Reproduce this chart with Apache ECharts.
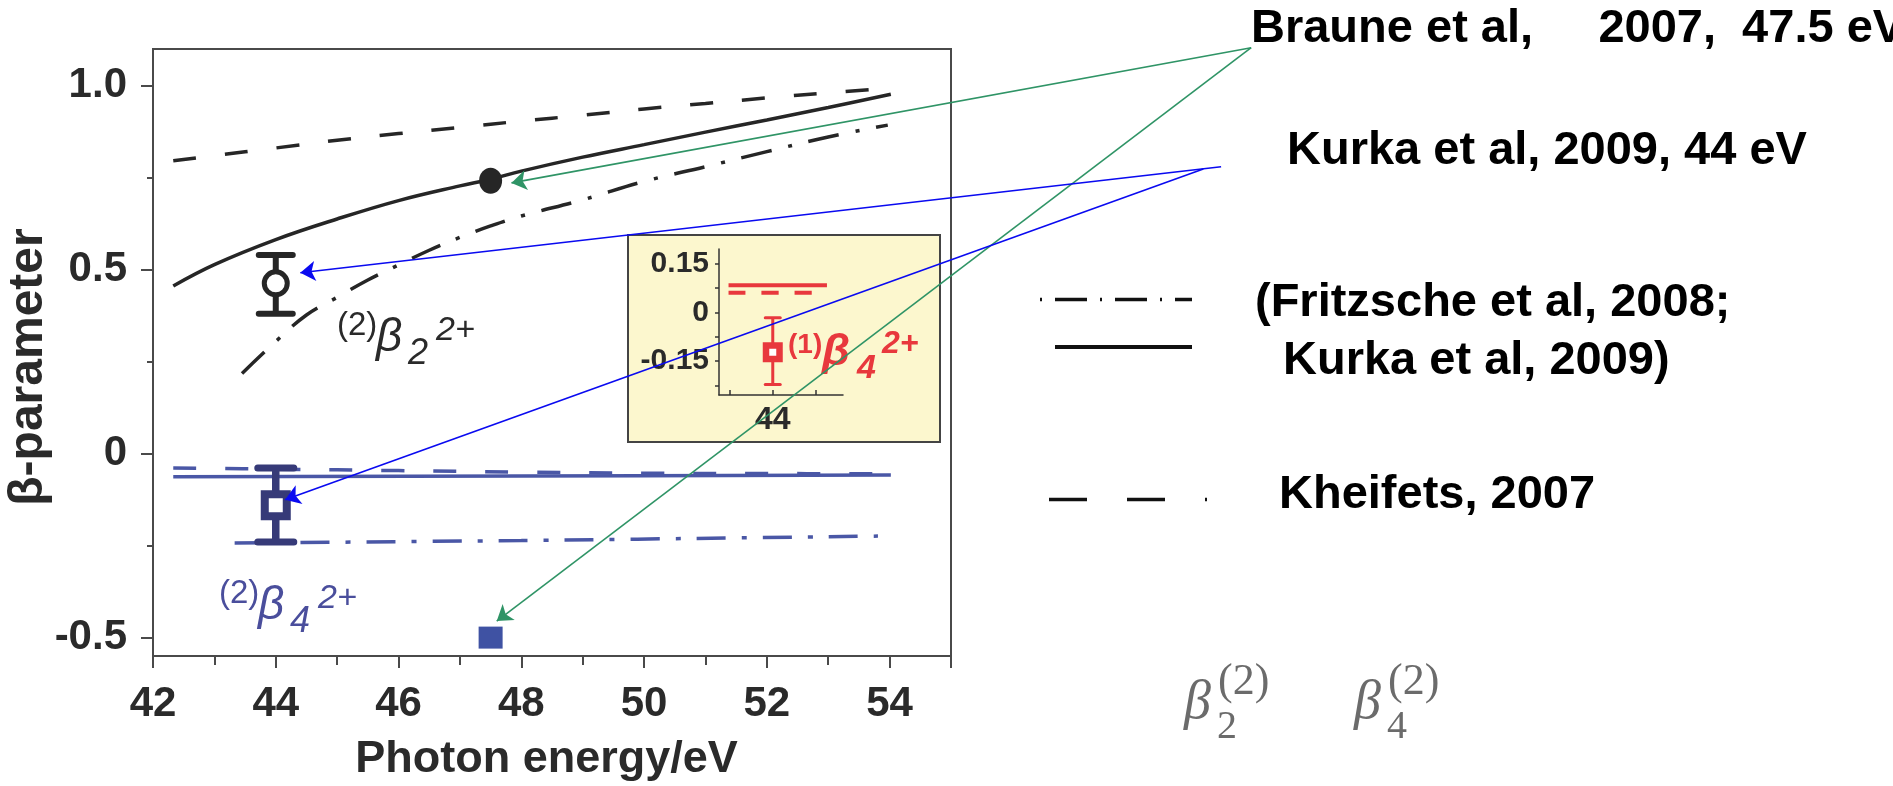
<!DOCTYPE html>
<html>
<head>
<meta charset="utf-8">
<script src="https://cdn.jsdelivr.net/npm/echarts@6/dist/echarts.min.js"></script>
<style>
  html, body { margin: 0; padding: 0; background: #ffffff; }
  #chart { width: 1893px; height: 786px; }
</style>
</head>
<body>
<div id="chart"></div>
<script>
// ---- β2 (2+) curves vs photon energy (eV) ----
const kheifetsB2X   = [42.33, 43, 44, 45, 46, 47, 48, 49, 50, 51, 52, 53, 53.86];
const kheifetsB2Y   = [0.796, 0.810, 0.831, 0.852, 0.870, 0.887, 0.904, 0.920, 0.937, 0.952, 0.967, 0.981, 0.992];
const kurkaB2X      = [42.33, 43, 44, 45, 46, 47, 47.5, 48, 49, 50, 51, 52, 53, 54.02];
const kurkaB2Y      = [0.456, 0.514, 0.582, 0.638, 0.688, 0.728, 0.746, 0.768, 0.806, 0.840, 0.874, 0.907, 0.941, 0.977];
const fritzscheB2X  = [43.45, 44, 44.5, 45, 45.5, 46, 46.5, 47, 47.5, 48, 49, 50, 51, 52, 53, 53.97];
const fritzscheB2Y  = [0.218, 0.305, 0.377, 0.425, 0.472, 0.513, 0.553, 0.588, 0.619, 0.646, 0.690, 0.740, 0.780, 0.821, 0.861, 0.893];

// ---- β4 (2+) curves ----
const kheifetsB4X   = [42.33, 44, 46, 48, 50, 52, 54];
const kheifetsB4Y   = [-0.039, -0.042, -0.046, -0.050, -0.053, -0.054, -0.055];
const kurkaB4X      = [42.33, 48, 54.02];
const kurkaB4Y      = [-0.063, -0.061, -0.058];
const fritzscheB4X  = [43.33, 48, 53.81];
const fritzscheB4Y  = [-0.243, -0.236, -0.224];

// ---- measurements ----
const kurkaEnergy   = [44];
const kurkaB2       = [0.463];
const kurkaB2Low    = [0.380];
const kurkaB2High   = [0.540];
const kurkaB4       = [-0.140];
const kurkaB4Low    = [-0.240];
const kurkaB4High   = [-0.039];
const brauneEnergy  = [47.5];
const brauneB2      = [0.742];
const brauneB4      = [-0.500];

// ---- inset: (1)β4 (2+) ----
const insetTheoryX     = [42.98, 45.25];
const insetTheoryY     = [0.083, 0.083];
const insetKheifetsX   = [42.98, 44.95];
const insetKheifetsY   = [0.0605, 0.0605];
const insetEnergy      = [44];
const insetB41         = [-0.123];
const insetB41Low      = [-0.223];
const insetB41High     = [-0.017];

// ---- axis ticks and labels ----
const xLabelValues   = [42, 44, 46, 48, 50, 52, 54];
const xMajorTicks    = [42, 44, 46, 48, 50, 52, 54, 55];
const xMinorTicks    = [43, 45, 47, 49, 51, 53];
const yLabelValues   = [-0.5, 0, 0.5, 1.0];
const yLabelTexts    = ['-0.5', '0', '0.5', '1.0'];
const yMinorTicks    = [-0.25, 0.25, 0.75];
const insetYTicks    = [-0.225, -0.15, -0.075, 0, 0.075, 0.15];
const insetYLabels   = [-0.15, 0, 0.15];
const insetYTexts    = ['-0.15', '0', '0.15'];
const insetXTicks    = [43, 44, 45];
const insetXLabels   = [44];

// ---- annotation arrows (axis units of the main plot; tails sit by the citations) ----
const brauneArrowTail = [59.89, 1.1035];
const brauneArrowHeads = [[47.84, 0.736], [47.60, -0.455]];
const kurkaArrowTails = [[59.40, 0.780], [59.11, 0.774]];
const kurkaArrowHeads = [[44.40, 0.492], [44.15, -0.125]];

const INK = '#262626';
const AXIS = '#4a4a4a';
const BLUE = '#4a57a6';
const NAVY = '#363a78';
const RED = '#e8383d';
const SANS = '"Liberation Sans", Arial, sans-serif';
const SERIF = '"Liberation Serif", "DejaVu Serif", serif';

const chart = echarts.init(document.getElementById('chart'), null, { renderer: 'canvas' });

const pairs = (xs, ys) => xs.map((x, i) => [x, ys[i]]);

function curve(name, xs, ys, color, type, width, axis) {
  return {
    name, type: 'line', xAxisIndex: axis, yAxisIndex: axis,
    data: pairs(xs, ys), symbol: 'none', showSymbol: false, smooth: 0.4,
    lineStyle: { color, width, type, cap: 'butt' },
    z: axis === 2 ? 8 : 3, silent: true
  };
}

function errorBars(xs, lows, highs, axis, color, barWidth, capWidth, capThick) {
  return {
    type: 'custom', xAxisIndex: axis, yAxisIndex: axis,
    data: xs.map((x, i) => [x, lows[i], highs[i]]),
    encode: { x: 0, y: [1, 2] },
    z: axis === 2 ? 9 : 5, silent: true,
    renderItem(params, api) {
      const x = api.value(0);
      const lo = api.coord([x, api.value(1)]);
      const hi = api.coord([x, api.value(2)]);
      const hw = capWidth / 2;
      const stem = { stroke: color, lineWidth: barWidth };
      const cap = { stroke: color, lineWidth: capThick, lineCap: 'round' };
      return {
        type: 'group',
        children: [
          { type: 'line', shape: { x1: lo[0], y1: lo[1], x2: hi[0], y2: hi[1] }, style: stem },
          { type: 'line', shape: { x1: lo[0] - hw, y1: lo[1], x2: lo[0] + hw, y2: lo[1] }, style: cap },
          { type: 'line', shape: { x1: hi[0] - hw, y1: hi[1], x2: hi[0] + hw, y2: hi[1] }, style: cap }
        ]
      };
    }
  };
}

function marker(xs, ys, axis, symbol, size, itemStyle, z) {
  return {
    type: 'scatter', xAxisIndex: axis, yAxisIndex: axis,
    data: pairs(xs, ys), symbol, symbolSize: size,
    itemStyle: Object.assign({ opacity: 1 }, itemStyle), z, silent: true
  };
}

function arrows(tails, heads, color) {
  return {
    type: 'lines', coordinateSystem: 'cartesian2d', xAxisIndex: 0, yAxisIndex: 0,
    clip: false, z: 20, silent: true,
    symbol: ['none', 'arrow'], symbolSize: [0, 15],
    lineStyle: { color, width: 1.6, opacity: 1, curveness: 0 },
    data: heads.map((h, i) => ({ coords: [tails[i], h] }))
  };
}

function label(text, font, color, x, y, align) {
  return {
    type: 'text', x, y, z: 12, silent: true,
    style: { text, font, fill: color, align: align || 'left', verticalAlign: 'middle' }
  };
}

// "(n)β_k^{2+}" label built from pieces
function betaLabel(x0, y0, pre, sub, color) {
  return [
    label(pre, `33px ${SANS}`, color, x0 + 1, y0 + 16),
    label('β', `italic 46px ${SANS}`, color, x0 + 40, y0 + 28),
    label(sub, `italic 36px ${SANS}`, color, x0 + 72, y0 + 44),
    label('2+', `italic 34px ${SANS}`, color, x0 + 100, y0 + 21)
  ];
}

// β_k^{(2)} in serif
function serifBeta(x0, sub) {
  const gray = '#6b6b6b';
  return [
    label('β', `italic 54px ${SERIF}`, gray, x0, 704),
    label(sub, `40px ${SERIF}`, gray, x0 + 33, 727),
    label('(2)', `44px ${SERIF}`, gray, x0 + 34, 682)
  ];
}

function legendKey(x1, x2, y, dash, width) {
  return {
    type: 'line', z: 12, silent: true,
    shape: { x1, y1: y, x2, y2: y },
    style: { stroke: '#111111', lineWidth: width, lineDash: dash }
  };
}

const tickLabelFont = { fontFamily: SANS, fontWeight: 'bold', fontSize: 42, color: '#2a2a2a' };
const citeFont = `bold 47px ${SANS}`;

const option = {
  animation: false,
  backgroundColor: '#ffffff',
  grid: [
    { left: 153, top: 49, width: 798, height: 607, show: true, borderColor: AXIS, borderWidth: 2, backgroundColor: 'transparent', z: 0 },
    { left: 719, top: 249, width: 124, height: 146, show: false, z: 4 }
  ],
  xAxis: [
    {
      gridIndex: 0, type: 'value', min: 42, max: 55, position: 'bottom',
      axisLine: { show: true, onZero: false, lineStyle: { color: AXIS, width: 2 } },
      axisTick: { show: true, customValues: xMajorTicks, length: 12, lineStyle: { color: AXIS, width: 2 } },
      axisLabel: Object.assign({ customValues: xLabelValues, margin: 27 }, tickLabelFont),
      splitLine: { show: false }
    },
    {
      gridIndex: 0, type: 'value', min: 42, max: 55, position: 'bottom',
      axisLine: { show: false, onZero: false },
      axisTick: { show: true, customValues: xMinorTicks, length: 9, lineStyle: { color: AXIS, width: 2 } },
      axisLabel: { show: false },
      splitLine: { show: false }
    },
    {
      gridIndex: 1, type: 'value', min: 42.76, max: 45.62, position: 'bottom', z: 5,
      axisLine: { show: true, onZero: false, lineStyle: { color: '#333', width: 1.5 } },
      axisTick: { show: true, inside: true, customValues: insetXTicks, length: 5, lineStyle: { color: '#333', width: 1.5 } },
      axisLabel: { customValues: insetXLabels, margin: 9, fontFamily: SANS, fontWeight: 'bold', fontSize: 32, color: '#2a2a2a' },
      splitLine: { show: false }
    }
  ],
  yAxis: [
    {
      gridIndex: 0, type: 'value', min: -0.55, max: 1.1, position: 'left',
      axisLine: { show: true, onZero: false, lineStyle: { color: AXIS, width: 2 } },
      axisTick: { show: true, customValues: yLabelValues, length: 12, lineStyle: { color: AXIS, width: 2 } },
      axisLabel: Object.assign({
        customValues: yLabelValues, margin: 26,
        formatter: v => yLabelTexts[yLabelValues.findIndex(t => Math.abs(t - v) < 1e-9)]
      }, tickLabelFont),
      splitLine: { show: false }
    },
    {
      gridIndex: 0, type: 'value', min: -0.55, max: 1.1, position: 'left',
      axisLine: { show: false, onZero: false },
      axisTick: { show: true, customValues: yMinorTicks, length: 6, lineStyle: { color: AXIS, width: 2 } },
      axisLabel: { show: false },
      splitLine: { show: false }
    },
    {
      gridIndex: 1, type: 'value', min: -0.255, max: 0.195, position: 'left', z: 5,
      axisLine: { show: true, onZero: false, lineStyle: { color: '#333', width: 1.5 } },
      axisTick: { show: true, customValues: insetYTicks, length: 4, lineStyle: { color: '#333', width: 1.5 } },
      axisLabel: {
        customValues: insetYLabels, margin: 10,
        formatter: v => insetYTexts[insetYLabels.findIndex(t => Math.abs(t - v) < 1e-9)],
        fontFamily: SANS, fontWeight: 'bold', fontSize: 30, color: '#2a2a2a'
      },
      splitLine: { show: false }
    }
  ],
  series: [
    // β2 theory
    curve('Kheifets β2', kheifetsB2X, kheifetsB2Y, INK, [23, 29], 3.5, 0),
    curve('Kurka β2', kurkaB2X, kurkaB2Y, INK, 'solid', 3.5, 0),
    curve('Fritzsche β2', fritzscheB2X, fritzscheB2Y, INK, [31, 17, 4, 17], 3.5, 0),
    // β4 theory
    curve('Kheifets β4', kheifetsB4X, kheifetsB4Y, BLUE, [23, 29], 3.5, 0),
    curve('Kurka β4', kurkaB4X, kurkaB4Y, BLUE, 'solid', 3.5, 0),
    curve('Fritzsche β4', fritzscheB4X, fritzscheB4Y, BLUE, [29, 16, 5, 16], 3.5, 0),
    // Kurka et al. 2009, 44 eV
    errorBars(kurkaEnergy, kurkaB2Low, kurkaB2High, 0, INK, 6, 34, 6),
    errorBars(kurkaEnergy, kurkaB4Low, kurkaB4High, 0, NAVY, 7.5, 36, 7),
    marker(kurkaEnergy, kurkaB2, 0, 'circle', 23, { color: '#ffffff', borderColor: INK, borderWidth: 5 }, 6),
    marker(kurkaEnergy, kurkaB4, 0, 'rect', 22, { color: '#ffffff', borderColor: NAVY, borderWidth: 8 }, 6),
    // Braune et al. 2007, 47.5 eV
    marker(brauneEnergy, brauneB2, 0, 'circle', [23, 26], { color: INK }, 6),
    marker(brauneEnergy, brauneB4, 0, 'rect', [24, 22], { color: '#3f52a3' }, 6),
    // inset
    curve('inset theory', insetTheoryX, insetTheoryY, RED, 'solid', 4, 2),
    curve('inset Kheifets', insetKheifetsX, insetKheifetsY, RED, [17, 16], 4, 2),
    errorBars(insetEnergy, insetB41Low, insetB41High, 2, RED, 3, 15, 3),
    marker(insetEnergy, insetB41, 2, 'rect', 13.5, { color: '#ffffff', borderColor: RED, borderWidth: 6.5 }, 10),
    // citation arrows
    arrows(brauneArrowHeads.map(() => brauneArrowTail), brauneArrowHeads, '#2f9466'),
    arrows(kurkaArrowTails, kurkaArrowHeads, '#0a0af0')
  ],
  graphic: [
    { type: 'rect', z: 1, silent: true, shape: { x: 628, y: 235, width: 312, height: 207 },
      style: { fill: '#fcf7ce', stroke: '#444444', lineWidth: 2 } },
    label('Photon energy/eV', `bold 45px ${SANS}`, '#2a2a2a', 546.5, 760, 'center'),
    { type: 'text', x: 28.5, y: 367, rotation: Math.PI / 2, z: 12, silent: true,
      style: { text: 'β-parameter', font: `bold 48px ${SANS}`, fill: '#2a2a2a', align: 'center', verticalAlign: 'middle' } },
    ...betaLabel(336, 310, '(2)', '2', '#2a2a2a'),
    ...betaLabel(218, 578, '(2)', '4', '#4a4e9c'),
    label('(1)', `bold 28px ${SANS}`, RED, 788, 345),
    label('β', `italic bold 45px ${SANS}`, RED, 822, 353),
    label('4', `italic bold 34px ${SANS}`, RED, 857, 369),
    label('2+', `italic bold 32px ${SANS}`, RED, 882, 344),
    // citations and line keys
    label('Braune et al,     2007,  47.5 eV', citeFont, '#000000', 1251, 29),
    label('Kurka et al, 2009, 44 eV', citeFont, '#000000', 1287, 151),
    label('(Fritzsche et al, 2008;', citeFont, '#000000', 1255, 303),
    label('Kurka et al, 2009)', citeFont, '#000000', 1283, 361),
    label('Kheifets, 2007', citeFont, '#000000', 1279, 495),
    legendKey(1040, 1192, 299.5, [2, 13, 32, 13], 3.5),
    legendKey(1055, 1192, 347, null, 4),
    legendKey(1049, 1207, 499.5, [38, 40], 3.5),
    ...serifBeta(1184, '2'),
    ...serifBeta(1354, '4')
  ]
};

chart.setOption(option);
</script>
</body>
</html>
